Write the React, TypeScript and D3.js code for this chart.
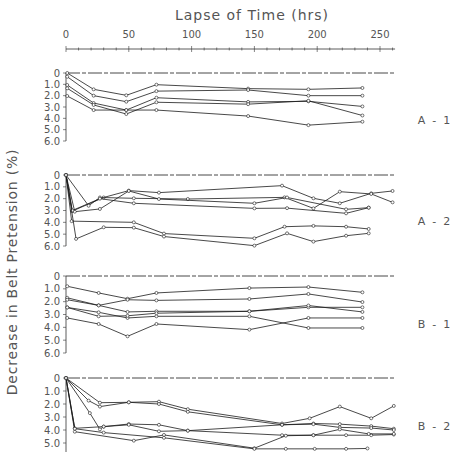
import React from "react";
import * as d3 from "d3";

type Pt = [number, number];

const xTicks = [0, 50, 100, 150, 200, 250];
const yTickValues = [0, 1, 2, 3, 4, 5, 6];
const yTickLabels = ["0", "1.0", "2.0", "3.0", "4.0", "5.0", "6.0"];
const panelNames = ["A - 1", "A - 2", "B - 1", "B - 2"];

const seriesA1: Pt[][] = [
  [[1, 0.0], [22, 1.44], [48, 1.97], [72, 1.03], [145, 1.38], [193, 1.44], [236, 1.32]],
  [[1, 0.33], [22, 2.0], [48, 2.53], [72, 1.6], [145, 1.5], [193, 2.0], [236, 2.0]],
  [[1, 1.06], [22, 2.65], [48, 3.27], [72, 2.18], [145, 2.55], [193, 2.5], [236, 2.95]],
  [[1, 1.35], [22, 2.82], [48, 3.62], [72, 2.58], [145, 2.75], [193, 2.45], [236, 3.75]],
  [[1, 2.03], [22, 3.27], [48, 3.27], [72, 3.27], [145, 3.8], [193, 4.6], [236, 4.3]],
];

const seriesA2: Pt[][] = [
  [[0, 0], [5, 3.05], [30, 1.9], [50, 1.32], [74, 1.49], [172, 0.9], [197, 1.97], [218, 2.39], [243, 1.55], [260, 1.35]],
  [[0, 0], [18, 2.6], [27, 1.9], [54, 1.97], [97, 2.03], [174, 1.89], [197, 2.82], [218, 1.41], [243, 1.6], [260, 2.31]],
  [[0, 0], [7, 3.1], [27, 2.87], [50, 1.35], [74, 2.03], [150, 2.39], [176, 1.9], [223, 2.9], [241, 2.76]],
  [[0, 0], [5, 3.0], [27, 2.0], [54, 2.39], [150, 2.82], [176, 2.8], [223, 3.24], [241, 2.76]],
  [[0, 0], [4.5, 3.9], [54, 4.0], [78, 4.95], [150, 5.35], [174, 4.37], [197, 4.3], [223, 4.37], [241, 4.56]],
  [[0, 0], [8, 5.4], [30, 4.42], [54, 4.45], [78, 5.2], [150, 5.97], [176, 4.93], [197, 5.63], [223, 5.13], [241, 4.93]],
];

const seriesB1: Pt[][] = [
  [[1, 0.8], [26, 1.32], [49, 1.77], [72, 1.32], [146, 0.94], [193, 0.86], [236, 1.27]],
  [[1, 1.7], [26, 2.29], [49, 1.85], [72, 1.9], [146, 1.79], [193, 1.4], [236, 2.03]],
  [[1, 1.85], [26, 2.29], [49, 2.8], [72, 2.75], [146, 2.75], [193, 2.44], [236, 2.44]],
  [[1, 2.45], [26, 2.83], [49, 3.27], [72, 3.14], [146, 3.14], [193, 4.05], [236, 4.05]],
  [[1, 2.45], [26, 3.14], [49, 3.1], [72, 2.9], [146, 2.75], [193, 2.3], [236, 2.8]],
  [[1, 3.27], [26, 3.74], [49, 4.7], [72, 3.74], [146, 4.18], [193, 3.27], [236, 3.27]],
];

const seriesB2: Pt[][] = [
  [[0, 0], [18, 1.74], [27, 2.2], [50, 1.87], [74, 1.82], [97, 2.4], [172, 3.5], [194, 3.1], [218, 2.2], [243, 3.1], [261, 2.15]],
  [[0, 0], [27, 1.9], [50, 1.87], [74, 2.0], [97, 2.6], [172, 3.6], [197, 3.5], [218, 3.55], [243, 3.7], [261, 3.9]],
  [[0, 0], [19, 2.7], [27, 3.95], [30, 3.74], [50, 3.54], [74, 3.6], [97, 4.05], [172, 4.4], [197, 4.4], [223, 4.4], [243, 4.4], [261, 4.35]],
  [[0, 0], [7, 3.87], [30, 3.74], [50, 3.6], [74, 4.1], [97, 4.05], [172, 3.6], [197, 3.55], [218, 3.8], [243, 3.85], [261, 4.0]],
  [[0, 0], [7, 4.13], [54, 4.82], [78, 4.38], [150, 5.4], [175, 4.44], [197, 4.4], [218, 3.95], [241, 4.3], [261, 4.3]],
  [[0, 0], [7, 3.9], [30, 4.2], [78, 4.6], [150, 5.45], [175, 5.45], [198, 5.45], [223, 5.45], [240, 5.42]],
];

const panelSeries = [seriesA1, seriesA2, seriesB1, seriesB2];

const TXT = "#555";
const LINE = "#1a1a1a";
const FONT = "'DejaVu Sans', sans-serif";

export default function App() {
  const W = 453, H = 452;
  const x = d3.scaleLinear().domain([0, 250]).range([66, 380]);
  const panelRanges: [number, number][] = [[73, 141], [175, 246], [276, 353], [378, 456]];
  const labelY = [124, 225, 328, 430];
  const line = (y: d3.ScaleLinear<number, number>) =>
    d3.line<Pt>().x(d => x(d[0])).y(d => y(d[1]));
  const minor = d3.range(0, 261, 10);

  return (
    <svg width={W} height={H} style={{ position: "absolute", left: 0, top: 0, background: "#fff" }}>
      <rect width={W} height={H} fill="#fff" />
      <text x={252} y={20} textAnchor="middle" fontFamily={FONT} fontSize={14} fill={TXT} letterSpacing={1}>
        Lapse of Time (hrs)
      </text>
      {xTicks.map(t => (
        <text key={t} x={x(t)} y={38} textAnchor="middle" fontFamily={FONT} fontSize={10} fill={TXT}>
          {t}
        </text>
      ))}
      <line x1={x(0)} x2={x(262)} y1={49} y2={49} stroke="#333" strokeWidth={0.8} />
      {minor.map(t => (
        <line key={t} x1={x(t)} x2={x(t)} y1={xTicks.includes(t) ? 46 : 47.5} y2={xTicks.includes(t) ? 52 : 50.5} stroke="#333" strokeWidth={0.6} />
      ))}
      <text
        transform="translate(17,272) rotate(-90)"
        textAnchor="middle"
        fontFamily={FONT}
        fontSize={14}
        fill={TXT}
        letterSpacing={0.8}
      >
        Decrease in Belt Pretension (%)
      </text>
      {panelSeries.map((series, pi) => {
        const y = d3.scaleLinear().domain([0, 6]).range(panelRanges[pi]);
        const gen = line(y);
        return (
          <g key={pi}>
            <line x1={66} x2={66} y1={y(0)} y2={y(6)} stroke="#333" strokeWidth={0.8} />
            {yTickValues.map((v, i) => (
              <g key={v}>
                <line x1={63} x2={66} y1={y(v)} y2={y(v)} stroke="#333" strokeWidth={0.6} />
                {y(v) + 4 < H ? (
                  <text x={60} y={y(v) + 3.5} textAnchor="end" fontFamily={FONT} fontSize={10} fill={TXT}>
                    {yTickLabels[i]}
                  </text>
                ) : null}
              </g>
            ))}
            <line x1={66} x2={395} y1={y(0)} y2={y(0)} stroke="#333" strokeWidth={0.9} strokeDasharray="14,2,4,2" />
            {series.map((s, si) => (
              <g key={si}>
                <path d={gen(s) || ""} fill="none" stroke={LINE} strokeWidth={0.8} />
                {s.map((p, k) => (
                  <circle key={k} cx={x(p[0])} cy={y(p[1])} r={1.5} fill="#fff" stroke={LINE} strokeWidth={0.6} />
                ))}
              </g>
            ))}
            <text x={434} y={labelY[pi]} textAnchor="middle" fontFamily={FONT} fontSize={11} fill={TXT}>
              {panelNames[pi].replace(/ /g, "\u00a0\u00a0")}
            </text>
          </g>
        );
      })}
    </svg>
  );
}
